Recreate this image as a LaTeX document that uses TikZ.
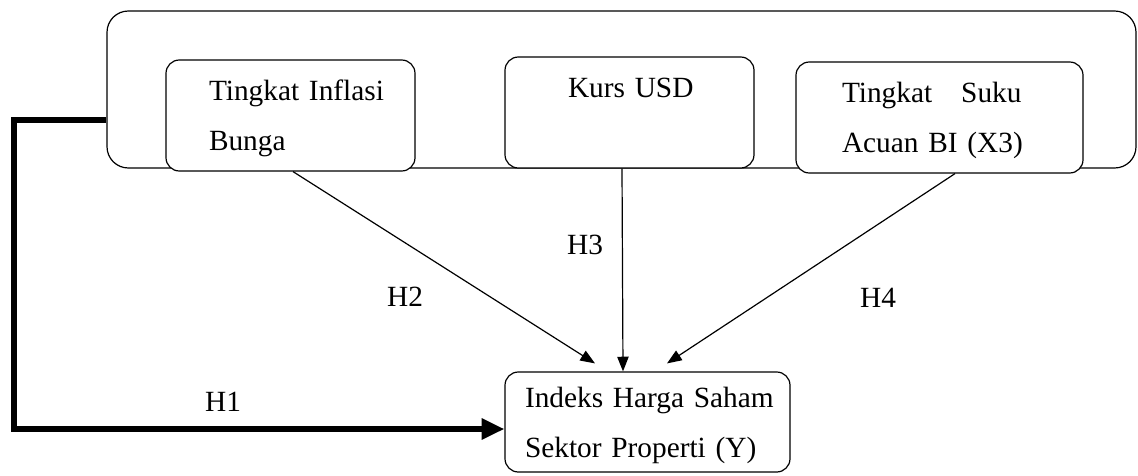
\documentclass[tikz,border=0pt]{standalone}
\usepackage{fontspec}
\setmainfont{Liberation Serif}
\usetikzlibrary{arrows.meta,calc}
\begin{document}
\begin{tikzpicture}[x=0.75pt,y=-0.75pt,
  txt/.style={font=\fontsize{22}{37.5}\selectfont},
  frame/.style={draw, line width=0.9pt, rounded corners=16pt, minimum width=771.75pt, minimum height=117.75pt, inner sep=0pt},
  varbox/.style={draw, line width=0.9pt, rounded corners=10pt, fill=white, inner xsep=0pt, inner ysep=0pt, align=left, txt, text width=#1},
  thin/.style={line width=0.9pt, -{Triangle[length=11pt,width=8.5pt]}},
  thick/.style={line width=4.2pt, -{Triangle[length=17pt,width=15pt]}},
  hyp/.style={txt, inner sep=0pt}]
\useasboundingbox (0,0) rectangle (1138,475);
% outer frame
\node[frame] (big) at (621.5,89.5) {};
% independent variables
\node[varbox=186.75pt, minimum height=83.25pt] (b1) at (290.5,115.5)
  {\hspace*{32.25pt}\strut Tingkat Inflasi\\\hspace*{32.25pt}\strut Bunga};
\node[varbox=186.75pt, minimum height=83.25pt] (b2) at (629.5,112.5)
  {\hspace*{47.25pt}\strut Kurs USD\\\strut};
\node[varbox=215.25pt, minimum height=83.25pt] (b3) at (939.5,117.5)
  {\hspace*{34.5pt}\strut Tingkat\hspace{21.75pt}Suku\\\hspace*{34.5pt}\strut Acuan BI (X3)};
% dependent variable
\node[varbox=213.75pt, minimum height=75pt] (y) at (647.5,422)
  {\hspace*{15pt}\strut Indeks Harga Saham\\\hspace*{15pt}\strut Sektor Properti (Y)};
% connectors
\draw[thin] ($(b1.south)+(2.5,0)$) -- ($(y.north)+(-52.5,-8)$);
\draw[thin] ($(b2.south)+(-7.5,0)$) -- ($(y.north)+(-24.5,0)$);
\draw[thin] ($(b3.south)+(15.5,0)$) -- ($(y.north)+(19.5,-8)$);
\coordinate (k1) at (14,120);
\coordinate (k2) at (14,429);
\draw[thick, line join=miter] (big.west |- k1) -- (k1) -- (k2) -- (k2 -| y.west);
% hypothesis labels
\node[hyp] (h1) at (223,402) {H1};
\node[hyp] (h2) at (405,297) {H2};
\node[hyp] (h3) at (585,245) {H3};
\node[hyp] (h4) at (878,298) {H4};
\end{tikzpicture}
\end{document}
